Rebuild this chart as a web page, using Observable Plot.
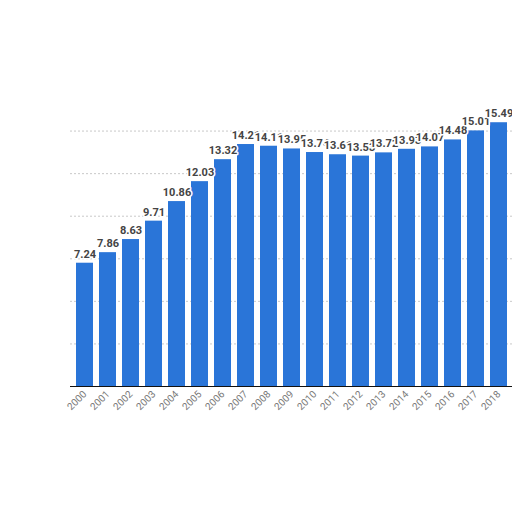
<!DOCTYPE html>
<html>
<head>
<meta charset="utf-8">
<script src="https://cdn.jsdelivr.net/npm/d3@7"></script>
<script src="https://cdn.jsdelivr.net/npm/@observablehq/plot@0.6"></script>
<style>
  html, body { margin: 0; padding: 0; background: #fff; }
  #chart { width: 512px; height: 512px; overflow: hidden; }
</style>
</head>
<body>
<div id="chart"></div>
<script>
const years = ["2000","2001","2002","2003","2004","2005","2006","2007","2008","2009","2010","2011","2012","2013","2014","2015","2016","2017","2018"];
const values = [7.24, 7.86, 8.63, 9.71, 10.86, 12.03, 13.32, 14.21, 14.11, 13.95, 13.74, 13.61, 13.53, 13.72, 13.93, 14.07, 14.48, 15.01, 15.49];
const gridTicks = [2.5, 5, 7.5, 10, 12.5, 15];

const data = years.map((y, i) => ({year: y, value: values[i]}));

const chart = Plot.plot({
  width: 512,
  height: 512,
  marginLeft: 70,
  marginRight: 0,
  marginTop: 88,
  marginBottom: 126,
  style: {background: "#fff", fontFamily: "Roboto, 'DejaVu Sans', sans-serif"},
  x: {domain: years, paddingInner: 0.27, paddingOuter: 0.22, label: null},
  y: {domain: [0, 17.5], label: null, axis: null},
  marks: [
    Plot.gridY(gridTicks, {stroke: "#bbb", strokeOpacity: 0.8, strokeDasharray: "2,2"}),
    Plot.barY(data, {x: "year", y: "value", fill: "#2a75d8"}),
    Plot.ruleY([0], {stroke: "#111", strokeWidth: 1.2}),
    Plot.text(data, {x: "year", y: "value", text: d => d.value.toFixed(2), dy: -9,
      fontWeight: "bold", fontSize: 11, fill: "#444", stroke: "#fff", strokeWidth: 3}),
    Plot.axisX({tickRotate: -45, tickSize: 0, tickPadding: 6, fontSize: 10, color: "#777", label: null})
  ]
});
document.getElementById("chart").appendChild(chart);
</script>
</body>
</html>
